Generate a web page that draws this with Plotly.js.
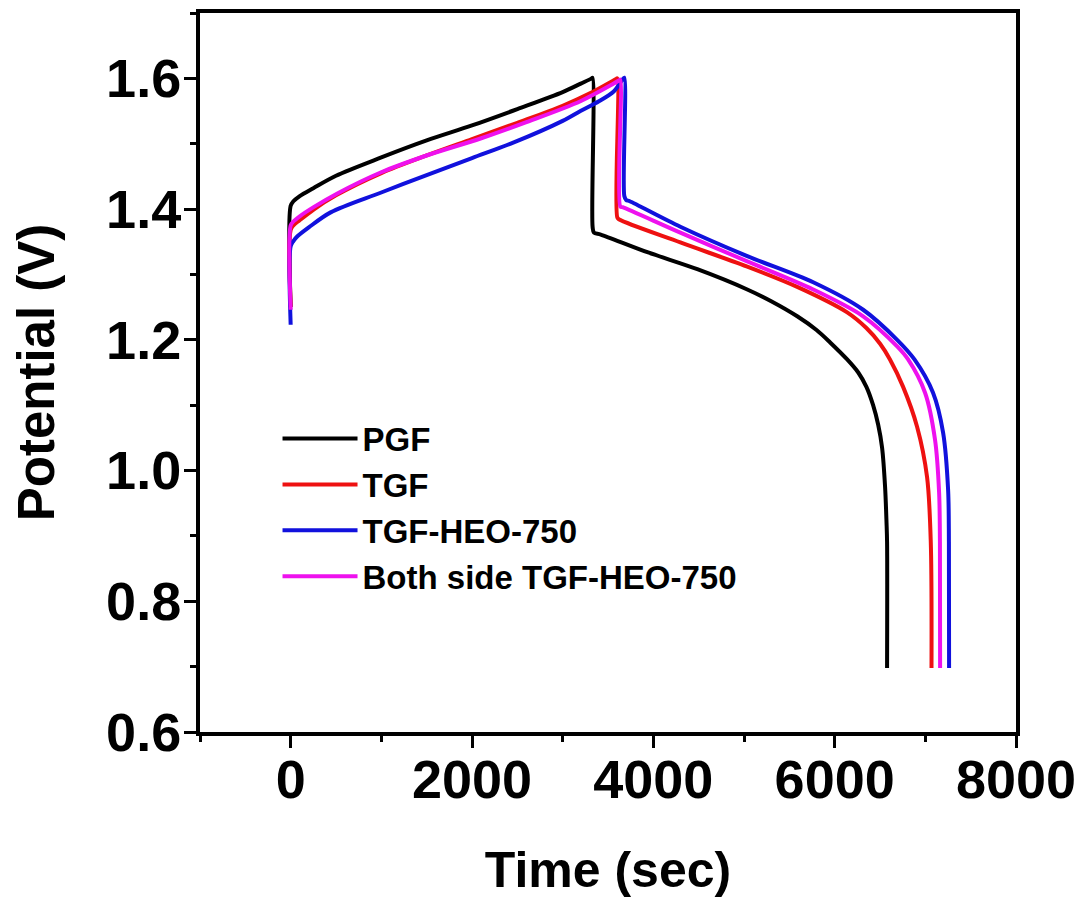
<!DOCTYPE html>
<html>
<head>
<meta charset="utf-8">
<script src="https://cdn.plot.ly/plotly-3.0.1.min.js"></script>
<style>
  html, body { margin: 0; padding: 0; background: #ffffff; }
  #chart { width: 1082px; height: 900px; }
</style>
</head>
<body>
<div id="chart"></div>
<script>
// Galvanostatic charge / discharge curves: time (s) vs potential (V)
const seriesNames = ['PGF', 'TGF', 'TGF-HEO-750', 'Both side TGF-HEO-750'];
const seriesColors = ['#000000', '#ee1111', '#1111dd', '#ee11ee'];

const pgfTime = [0, 0, 30, 100, 250, 500, 1000, 1500, 2000, 2500, 3000, 3200, 3320, 3330,
  3330, 3345, 3420, 3934, 4485, 5036, 5300, 5587, 5800, 5950, 6138, 6260, 6350, 6424, 6480, 6523, 6556, 6572, 6578, 6578];
const pgfPotential = [1.25, 1.405, 1.412, 1.420, 1.432, 1.451, 1.479, 1.505, 1.528, 1.553, 1.579, 1.592, 1.600, 1.601,
  1.373, 1.364, 1.361, 1.334, 1.308, 1.277, 1.259, 1.236, 1.215, 1.196, 1.170, 1.150, 1.128, 1.100, 1.070, 1.035, 0.975, 0.920, 0.891, 0.698];

const tgfTime = [0, 0, 30, 100, 250, 500, 1000, 1500, 2000, 2500, 3000, 3300, 3590, 3603,
  3603, 3625, 4298, 5036, 5587, 6138, 6350, 6501, 6610, 6755, 6909, 7019, 7060, 7068];
const tgfPotential = [1.25, 1.368, 1.375, 1.383, 1.399, 1.421, 1.455, 1.482, 1.507, 1.532, 1.558, 1.577, 1.599, 1.600,
  1.387, 1.384, 1.349, 1.312, 1.281, 1.242, 1.218, 1.194, 1.170, 1.128, 1.067, 0.990, 0.891, 0.698];

const heoTime = [0, 0, 30, 72, 200, 441, 992, 1500, 2000, 2461, 3000, 3196, 3400, 3563, 3665, 3680,
  3680, 3700, 3740, 4298, 5036, 5763, 6314, 6689, 6880, 7085, 7196, 7251, 7260, 7262];
const heoPotential = [1.223, 1.343, 1.351, 1.358, 1.372, 1.395, 1.425, 1.452, 1.478, 1.502, 1.535, 1.550, 1.565, 1.580, 1.599, 1.601,
  1.420, 1.414, 1.412, 1.373, 1.328, 1.288, 1.246, 1.200, 1.170, 1.119, 1.058, 0.971, 0.891, 0.698];

const bothTime = [0, 0, 30, 100, 253, 515, 992, 1500, 2094, 2600, 3196, 3563, 3625, 3636,
  3636, 3660, 4298, 5036, 5763, 6314, 6689, 6810, 6997, 7107, 7152, 7161, 7163];
const bothPotential = [1.246, 1.375, 1.381, 1.389, 1.403, 1.424, 1.456, 1.482, 1.508, 1.533, 1.565, 1.592, 1.597, 1.598,
  1.404, 1.403, 1.364, 1.320, 1.277, 1.236, 1.190, 1.170, 1.119, 1.047, 0.966, 0.891, 0.698];

const xTickValues = [0, 2000, 4000, 6000, 8000];
const yTickValues = [0.6, 0.8, 1.0, 1.2, 1.4, 1.6];

const times = [pgfTime, tgfTime, heoTime, bothTime];
const potentials = [pgfPotential, tgfPotential, heoPotential, bothPotential];

const FONT = 'Liberation Sans, Arial, Helvetica, sans-serif';

const traces = seriesNames.map((name, i) => ({
  type: 'scatter',
  mode: 'lines',
  name: name,
  x: times[i],
  y: potentials[i],
  line: { color: seriesColors[i], width: 4, shape: 'spline', smoothing: 0.9 },
  hoverinfo: 'skip'
}));

const axisCommon = {
  showline: true,
  linewidth: 4,
  linecolor: '#000000',
  mirror: true,
  showgrid: false,
  zeroline: false,
  ticks: 'outside',
  ticklen: 12,
  tickwidth: 3,
  tickcolor: '#000000',
  tickfont: { family: FONT, size: 54, weight: 'bold', color: '#000000' }
};

const layout = {
  width: 1082,
  height: 900,
  margin: { l: 200, r: 66, t: 13, b: 168 },
  paper_bgcolor: '#ffffff',
  plot_bgcolor: '#ffffff',
  font: { family: FONT, color: '#000000' },
  showlegend: true,
  legend: {
    x: 0.095, y: 0.447, xanchor: 'left', yanchor: 'top',
    bgcolor: 'rgba(0,0,0,0)', borderwidth: 0,
    itemwidth: 75,
    font: { family: FONT, size: 33, weight: 'bold', color: '#000000' },
    tracegroupgap: 0
  },
  xaxis: Object.assign({}, axisCommon, {
    range: [-1000, 8000],
    tickmode: 'array',
    tickvals: xTickValues,
    ticktext: xTickValues.map(String),
    ticklabelstandoff: -15,
    minor: { tickmode: 'linear', tick0: 1000, dtick: 2000, ticks: 'outside', ticklen: 6, tickwidth: 3, tickcolor: '#000000' },
    title: { text: 'Time (sec)', font: { family: FONT, size: 50, weight: 'bold', color: '#000000' }, standoff: 45 }
  }),
  yaxis: Object.assign({}, axisCommon, {
    range: [0.6, 1.7],
    tickmode: 'array',
    tickvals: yTickValues,
    ticktext: yTickValues.map(v => v.toFixed(1)),
    ticklabelstandoff: -8,
    minor: { tickmode: 'linear', tick0: 0.7, dtick: 0.2, ticks: 'outside', ticklen: 6, tickwidth: 3, tickcolor: '#000000' },
    title: { text: 'Potential (V)', font: { family: FONT, size: 51, weight: 'bold', color: '#000000' }, standoff: 36 }
  })
};

Plotly.newPlot('chart', traces, layout, { displayModeBar: false, staticPlot: true });
</script>
</body>
</html>
